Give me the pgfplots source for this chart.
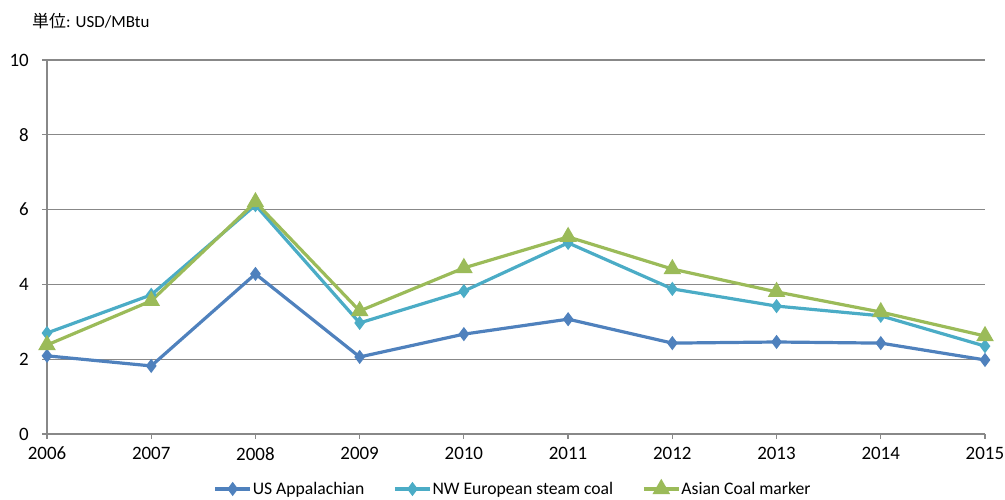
\documentclass[border=0pt]{standalone}
\usepackage{pgfplots}
\pgfplotsset{compat=1.18}
\usepackage{fontspec}
\setmainfont{Carlito}
\newfontfamily\jp{Noto Sans CJK JP}

\definecolor{usblue}{HTML}{4F81BD}
\definecolor{nwcyan}{HTML}{4BACC6}
\definecolor{asgreen}{HTML}{9BBB59}
\definecolor{gridgray}{HTML}{888888}

\begin{document}
\begin{tikzpicture}
\begin{axis}[
  scale only axis,
  width=938bp, height=374bp,
  at={(0,0)}, anchor=south west,
  xmin=2006, xmax=2015,
  ymin=0, ymax=10,
  xtick={2006,...,2015},
  ytick={0,2,4,6,8,10},
  /pgf/number format/1000 sep={},
  /pgf/number format/assume math mode=true,
  ymajorgrids,
  grid style={gridgray, line width=1.2bp},
  axis line style={gridgray, line width=1.2bp},
  axis x line*=bottom,
  axis y line*=left,
  tick align=outside,
  major tick length=5bp,
  tick style={gridgray, line width=1.2bp},
  ticklabel style={font=\fontsize{19}{21}\selectfont},
  xticklabel style={inner sep=0pt, yshift=-8bp},
  yticklabel style={inner sep=0pt, xshift=-13bp},
  clip=false,
  legend columns=3,
  legend style={draw=none, fill=none, font=\fontsize{17.7}{20}\selectfont,
    at={(0.4963,-0.147)}, anchor=center,
    nodes={inner xsep=1bp},
    /tikz/every even column/.append style={column sep=28bp}},
  legend cell align=left,
  legend image code/.code={%
    \draw[mark repeat=2,mark phase=2] plot coordinates {(0bp,0bp)(17.5bp,0bp)(35bp,0bp)};},
]
\addplot[usblue, line width=3.2bp, mark=diamond*, mark size=4.5bp, mark options={solid, fill=usblue}]
  coordinates {(2006,2.09)(2007,1.82)(2008,4.28)(2009,2.06)(2010,2.67)(2011,3.07)(2012,2.43)(2013,2.46)(2014,2.43)(2015,1.98)};
\addlegendentry{US Appalachian}
\addplot[nwcyan, line width=3.2bp, mark=diamond*, mark size=4.5bp, mark options={solid, fill=nwcyan}]
  coordinates {(2006,2.70)(2007,3.72)(2008,6.12)(2009,2.97)(2010,3.82)(2011,5.11)(2012,3.88)(2013,3.42)(2014,3.16)(2015,2.35)};
\addlegendentry{NW European steam coal}
\addplot[asgreen, line width=3.2bp, mark=triangle*, mark size=7bp, mark options={solid, fill=asgreen}]
  coordinates {(2006,2.38)(2007,3.56)(2008,6.20)(2009,3.29)(2010,4.44)(2011,5.27)(2012,4.41)(2013,3.80)(2014,3.26)(2015,2.62)};
\addlegendentry{Asian Coal marker}
\end{axis}
\node[anchor=west, inner sep=0pt, font=\fontsize{17}{19}\selectfont] at (-15bp,413bp) {{\jp 単位}: USD/MBtu};
\path (-47bp,-64bp) rectangle (958bp,434bp);
\end{tikzpicture}
\end{document}
